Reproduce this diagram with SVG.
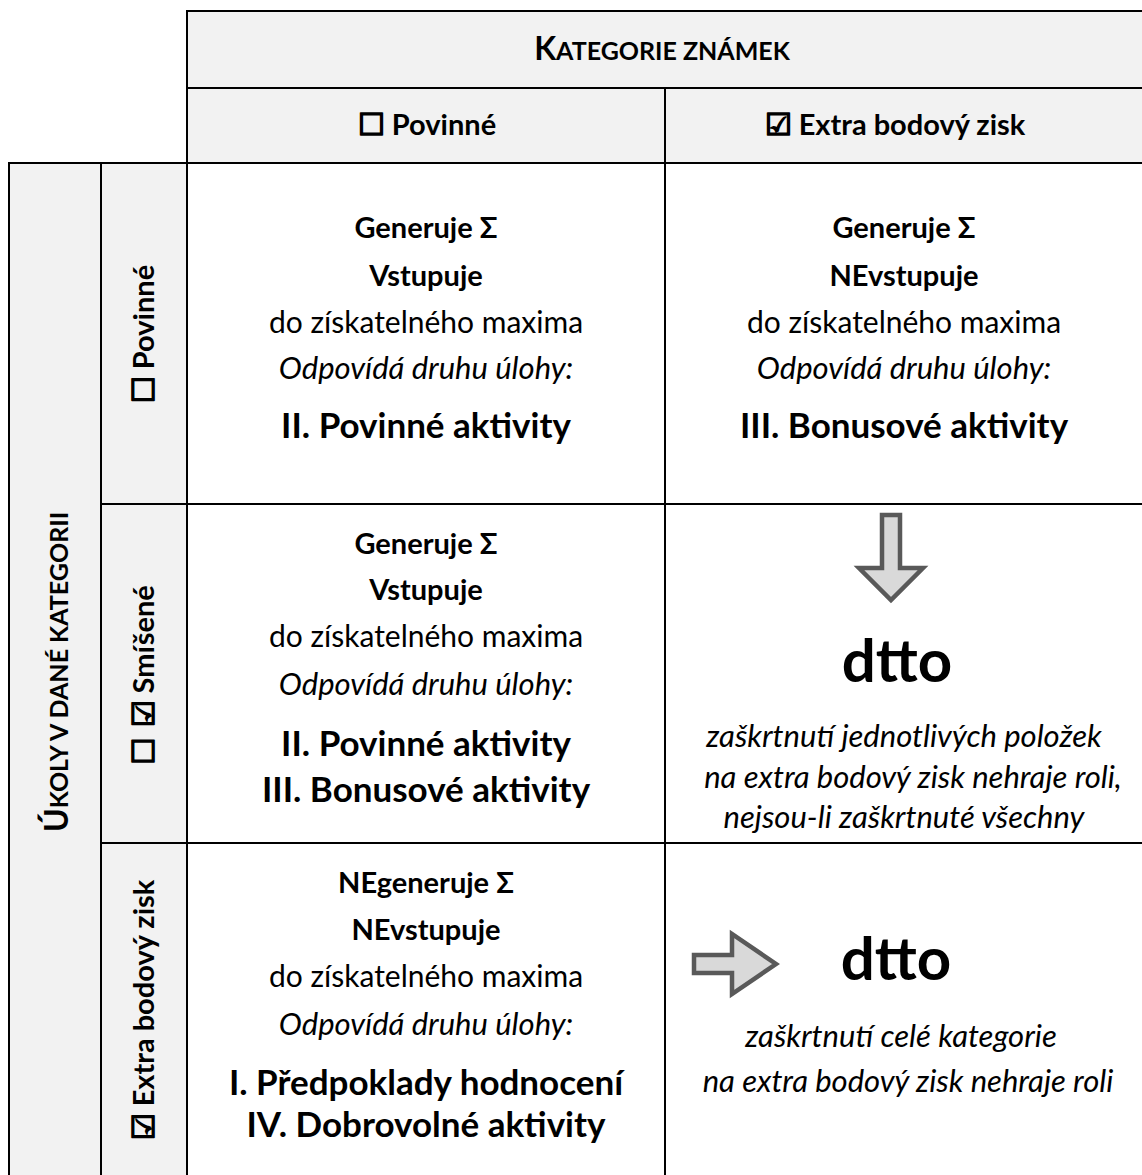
<svg xmlns="http://www.w3.org/2000/svg" width="1142" height="1175" viewBox="0 0 1142 1175">
<style>
text{font-family:Lato,"Open Sans","Liberation Sans",sans-serif;fill:#000;text-anchor:middle}
.b{font-weight:bold;font-size:29px}
.r{font-size:30px}
.i{font-style:italic;font-size:31px}
.big{font-weight:bold;font-size:35px}
.dt{font-weight:bold;font-size:60px}
.hdr{font-weight:bold;font-size:29px}
.cap{font-size:32px}
.sm{font-size:25px}
.box{font-family:"DejaVu Sans",sans-serif;font-weight:bold;font-size:30px;stroke:#000;stroke-width:1.6}
.shade{fill:#f2f2f2;stroke:#000;stroke-width:2}
.cell{fill:#fff;stroke:#000;stroke-width:2}
.arrow{fill:#d9d9d9;stroke:#595959;stroke-width:4.5}
</style>

<g id="header-title">
  <rect class="shade" x="187" y="11" width="957" height="77"/>
  <text class="hdr" x="662" y="60"><tspan class="cap">K</tspan><tspan class="sm">ATEGORIE ZNÁMEK</tspan></text>
</g>
<g id="header-povinne">
  <rect class="shade" x="187" y="88" width="478" height="75"/>
  <text class="hdr" x="427" y="135"><tspan class="box">☐</tspan> Povinné</text>
</g>
<g id="header-extra">
  <rect class="shade" x="665" y="88" width="479" height="75"/>
  <text class="hdr" x="895" y="135"><tspan class="box">☑</tspan> Extra bodový zisk</text>
</g>

<g id="side-title">
  <rect class="shade" x="9" y="163" width="92" height="1014"/>
  <text class="hdr" transform="translate(68,672) rotate(-90)"><tspan class="cap">Ú</tspan><tspan class="sm">KOLY V DANÉ KATEGORII</tspan></text>
</g>
<g id="side-povinne">
  <rect class="shade" x="101" y="163" width="86" height="341"/>
  <text class="hdr" transform="translate(154,334) rotate(-90)"><tspan class="box">☐</tspan> Povinné</text>
</g>
<g id="side-smisene">
  <rect class="shade" x="101" y="504" width="86" height="339"/>
  <text class="hdr" transform="translate(154,675) rotate(-90)"><tspan class="box">☐ ☑</tspan> Smíšené</text>
</g>
<g id="side-extra">
  <rect class="shade" x="101" y="843" width="86" height="334"/>
  <text class="hdr" transform="translate(154,1010) rotate(-90)"><tspan class="box">☑</tspan> Extra bodový zisk</text>
</g>

<g id="cell-povinne-povinne">
  <rect class="cell" x="187" y="163" width="478" height="341"/>
  <text class="b" x="426" y="238">Generuje Σ</text>
  <text class="b" x="426" y="286">Vstupuje</text>
  <text class="r" x="426" y="333">do získatelného maxima</text>
  <text class="i" x="426" y="379">Odpovídá druhu úlohy:</text>
  <text class="big" x="426" y="438">II. Povinné aktivity</text>
</g>
<g id="cell-povinne-extra">
  <rect class="cell" x="665" y="163" width="479" height="341"/>
  <text class="b" x="904" y="238">Generuje Σ</text>
  <text class="b" x="904" y="286">NEvstupuje</text>
  <text class="r" x="904" y="333">do získatelného maxima</text>
  <text class="i" x="904" y="379">Odpovídá druhu úlohy:</text>
  <text class="big" x="904" y="438">III. Bonusové aktivity</text>
</g>

<g id="cell-smisene-povinne">
  <rect class="cell" x="187" y="504" width="478" height="339"/>
  <text class="b" x="426" y="554">Generuje Σ</text>
  <text class="b" x="426" y="600">Vstupuje</text>
  <text class="r" x="426" y="647">do získatelného maxima</text>
  <text class="i" x="426" y="695">Odpovídá druhu úlohy:</text>
  <text class="big" x="426" y="756">II. Povinné aktivity</text>
  <text class="big" x="426" y="802">III. Bonusové aktivity</text>
</g>
<g id="cell-smisene-extra">
  <rect class="cell" x="665" y="504" width="479" height="339"/>
  <path id="arrow-down" class="arrow" d="M882,515 H900 V568 H923 L891,600 L859,568 H882 Z"/>
  <text class="dt" x="897" y="682">dtto</text>
  <text class="i" x="904" y="747">zaškrtnutí jednotlivých položek</text>
  <text class="i" x="913" y="788">na extra bodový zisk nehraje roli,</text>
  <text class="i" x="904" y="828">nejsou-li zaškrtnuté všechny</text>
</g>

<g id="cell-extra-povinne">
  <rect class="cell" x="187" y="843" width="478" height="334"/>
  <text class="b" x="426" y="893">NEgeneruje Σ</text>
  <text class="b" x="426" y="940">NEvstupuje</text>
  <text class="r" x="426" y="987">do získatelného maxima</text>
  <text class="i" x="426" y="1035">Odpovídá druhu úlohy:</text>
  <text class="big" x="426" y="1095">I. Předpoklady hodnocení</text>
  <text class="big" x="426" y="1137">IV. Dobrovolné aktivity</text>
</g>
<g id="cell-extra-extra">
  <rect class="cell" x="665" y="843" width="479" height="334"/>
  <path id="arrow-right" class="arrow" d="M694,955 H732 V934 L776,964 L732,994 V973 H694 Z"/>
  <text class="dt" x="896" y="980">dtto</text>
  <text class="i" x="901" y="1047">zaškrtnutí celé kategorie</text>
  <text class="i" x="908" y="1092">na extra bodový zisk nehraje roli</text>
</g>
</svg>
